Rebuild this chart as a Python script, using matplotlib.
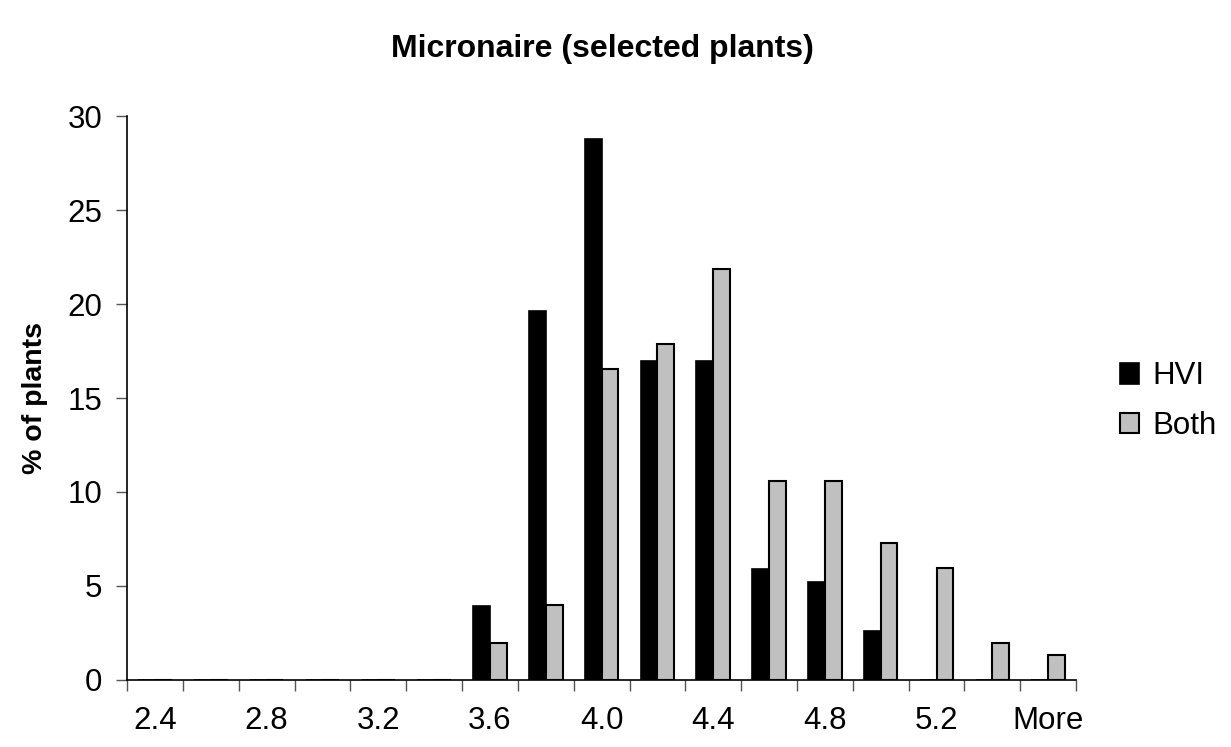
import numpy as np
import matplotlib.pyplot as plt

plt.rcParams['font.family'] = ['Liberation Sans', 'DejaVu Sans']

# Micronaire bins (every other label shown on the axis)
bins = ['2.4', '2.6', '2.8', '3.0', '3.2', '3.4', '3.6', '3.8', '4.0',
        '4.2', '4.4', '4.6', '4.8', '5.0', '5.2', '5.4', 'More']
hvi = [0, 0, 0, 0, 0, 0, 3.92, 19.61, 28.76, 16.99, 16.99, 5.88, 5.23, 2.61, 0, 0, 0]
both = [0, 0, 0, 0, 0, 0, 1.99, 3.97, 16.56, 17.88, 21.85, 10.60, 10.60, 7.28, 5.96, 1.99, 1.32]

x = np.arange(len(bins))
w = 0.3

fig = plt.figure(figsize=(12.31, 7.47), dpi=100)
ax = fig.add_axes([0.1032, 0.0897, 0.771, 0.755])

ax.bar(x - w / 2, hvi, w, color='black', edgecolor='black', linewidth=1.2, label='HVI')
ax.bar(x + w / 2, both, w, color='#c0c0c0', edgecolor='black', linewidth=1.5, label='Both')

ax.set_xlim(-0.5, len(bins) - 0.5)
ax.set_ylim(0, 30)
ax.set_yticks(range(0, 31, 5))

# labels on every other bin, tick marks on bin boundaries
ax.set_xticks(x[::2])
ax.set_xticklabels(bins[::2])
ax.set_xticks(np.arange(len(bins) + 1) - 0.5, minor=True)
ax.tick_params(axis='x', which='major', length=0, pad=19, labelsize=22.5)
ax.tick_params(axis='x', which='minor', length=8, width=1, direction='out', color='#555555')
ax.tick_params(axis='y', length=8, width=1, direction='out', pad=10, labelsize=22.5, color='#555555')

for s in ['top', 'right']:
    ax.spines[s].set_visible(False)
for s in ['left', 'bottom']:
    ax.spines[s].set_linewidth(1.2)

ax.set_ylabel('% of plants', fontsize=20.5, fontweight='bold', labelpad=14)
fig.text(0.489, 0.935, 'Micronaire (selected plants)', fontsize=23, fontweight='bold',
         ha='center', va='center')

fig.legend(loc='center left', bbox_to_anchor=(0.887, 0.463), frameon=False, fontsize=22.5,
           handlelength=0.62, handleheight=0.62, handletextpad=0.4, labelspacing=0.62)

fig.savefig('out.png', dpi=100)
